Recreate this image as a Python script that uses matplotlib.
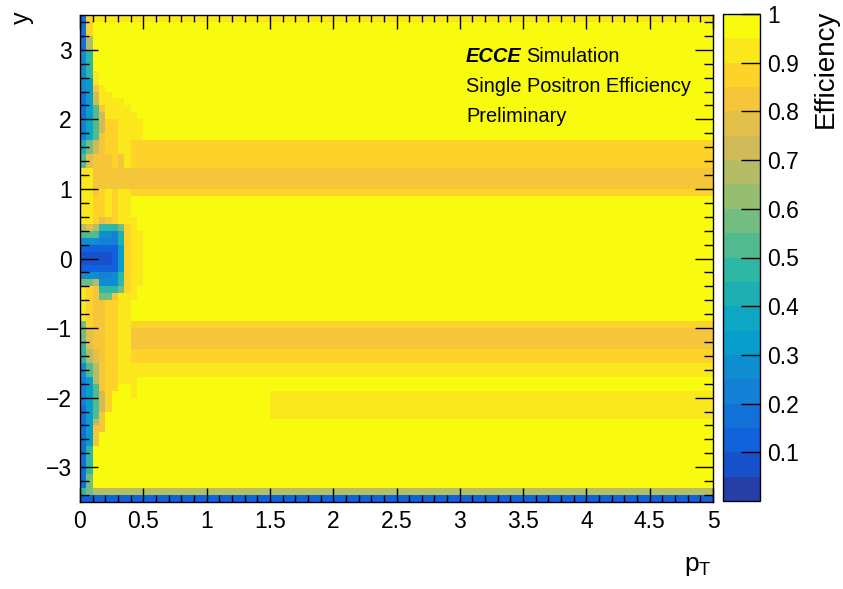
import numpy as np
import matplotlib
matplotlib.use("Agg")
import matplotlib.pyplot as plt
from matplotlib.colors import ListedColormap, BoundaryNorm

# ---------------- data ----------------
pt_edges = np.linspace(0.0, 5.0, 101)      # 100 bins of 0.05
y_edges = np.linspace(-3.5, 3.5, 71)       # 70 bins of 0.1

# efficiency plateau vs y for pT above the turn-on (y_lo, y_hi, eff)
plateau_segments = [
    (-3.5, -3.4, 0.15), (-3.4, -3.3, 0.67), (-3.3, -1.7, 0.975),
    (-1.7, -1.5, 0.91), (-1.5, -1.3, 0.88), (-1.3, -1.0, 0.84),
    (-1.0, -0.9, 0.88), (-0.9, 0.9, 0.975), (0.9, 1.0, 0.88),
    (1.0, 1.3, 0.84), (1.3, 1.7, 0.88), (1.7, 3.4, 0.975),
    (3.4, 3.5, 0.92),
]
# faint band (y_lo, y_hi, eff, pT start)
faint_band = (-2.3, -1.9, 0.93, 1.5)

# low-pT columns (index of the 0.05 pT bin -> segments (y_lo, y_hi, eff))
col0 = [(-3.5, -3.4, 0.1), (-3.4, -3.3, 0.45), (-3.3, -2.1, 0.17), (-2.1, -1.7, 0.2),
        (-1.7, -1.5, 0.3), (-1.5, -1.2, 0.45), (-1.2, -0.9, 0.55), (-0.9, -0.4, 0.93),
        (-0.4, -0.3, 0.55), (-0.3, -0.2, 0.3), (-0.2, -0.1, 0.12), (-0.1, 0.1, 0.07),
        (0.1, 0.2, 0.12), (0.2, 0.3, 0.3), (0.3, 0.4, 0.5), (0.4, 0.5, 0.7),
        (0.5, 1.3, 0.93), (1.3, 1.5, 0.5), (1.5, 1.7, 0.4), (1.7, 2.0, 0.22),
        (2.0, 2.4, 0.18), (2.4, 3.0, 0.25), (3.0, 3.5, 0.18)]
col1 = [(-3.5, -3.4, 0.12), (-3.4, -3.1, 0.6), (-3.1, -2.7, 0.45), (-2.7, -1.7, 0.32),
        (-1.7, -1.5, 0.5), (-1.5, -1.3, 0.65), (-1.3, -1.0, 0.78), (-1.0, -0.4, 0.88),
        (-0.4, -0.3, 0.6), (-0.3, -0.2, 0.3), (-0.2, -0.1, 0.12), (-0.1, 0.1, 0.07),
        (0.1, 0.2, 0.12), (0.2, 0.3, 0.3), (0.3, 0.4, 0.5), (0.4, 0.5, 0.75),
        (0.5, 1.3, 0.92), (1.3, 1.5, 0.75), (1.5, 1.7, 0.6), (1.7, 2.0, 0.38),
        (2.0, 2.6, 0.32), (2.6, 3.0, 0.45), (3.0, 3.2, 0.65), (3.2, 3.5, 0.88)]
col2 = [(-3.3, -2.7, 0.975), (-2.7, -2.4, 0.85), (-2.4, -2.3, 0.7), (-2.3, -1.8, 0.5),
        (-1.8, -1.5, 0.68), (-1.5, -1.3, 0.75), (-1.3, -0.4, 0.85), (-0.4, -0.3, 0.7),
        (-0.3, -0.2, 0.3), (-0.2, -0.1, 0.12), (-0.1, 0.1, 0.07), (0.1, 0.2, 0.12),
        (0.2, 0.3, 0.3), (0.3, 0.4, 0.5), (0.4, 0.5, 0.7), (0.5, 0.9, 0.87),
        (0.9, 1.3, 0.8), (1.3, 1.5, 0.85), (1.5, 1.7, 0.72), (1.7, 2.2, 0.5),
        (2.2, 2.4, 0.72), (2.4, 2.5, 0.8), (2.5, 2.7, 0.9), (2.7, 3.4, 0.975)]
col3 = [(-3.3, -2.5, 0.975), (-2.5, -2.2, 0.85), (-2.2, -1.9, 0.72), (-1.9, -1.4, 0.8),
        (-1.4, -0.6, 0.85), (-0.6, -0.5, 0.6), (-0.5, -0.4, 0.45), (-0.4, -0.3, 0.25),
        (-0.3, -0.2, 0.2), (-0.2, -0.1, 0.1), (-0.1, 0.1, 0.07), (0.1, 0.2, 0.12),
        (0.2, 0.3, 0.2), (0.3, 0.4, 0.25), (0.4, 0.5, 0.45), (0.5, 0.6, 0.75),
        (0.6, 1.0, 0.86), (1.0, 1.3, 0.82), (1.3, 1.8, 0.8), (1.8, 2.1, 0.74),
        (2.1, 2.2, 0.85), (2.2, 2.5, 0.9), (2.5, 3.4, 0.975)]
col4 = [(-3.3, -2.2, 0.975), (-2.2, -0.6, 0.87), (-0.6, -0.5, 0.6), (-0.5, -0.4, 0.45),
        (-0.4, -0.3, 0.25), (-0.3, -0.2, 0.2), (-0.2, -0.1, 0.1), (-0.1, 0.1, 0.07),
        (0.1, 0.2, 0.12), (0.2, 0.3, 0.2), (0.3, 0.4, 0.25), (0.4, 0.5, 0.45),
        (0.5, 0.6, 0.85), (0.6, 1.0, 0.9), (1.0, 1.5, 0.85), (1.5, 2.0, 0.87),
        (2.0, 2.4, 0.9), (2.4, 3.4, 0.975)]
col5 = [(-3.3, -1.9, 0.975), (-1.9, -0.6, 0.88), (-0.6, -0.5, 0.8), (-0.5, -0.4, 0.45),
        (-0.4, -0.2, 0.25), (-0.2, 0.2, 0.12), (0.2, 0.4, 0.22), (0.4, 0.5, 0.45),
        (0.5, 1.0, 0.88), (1.0, 1.3, 0.84), (1.3, 2.0, 0.88), (2.0, 2.3, 0.92),
        (2.3, 3.4, 0.975)]
col6 = [(-3.3, -1.8, 0.975), (-1.8, -0.5, 0.9), (-0.5, -0.4, 0.55), (-0.4, -0.2, 0.45),
        (-0.2, 0.2, 0.35), (0.2, 0.4, 0.42), (0.4, 0.5, 0.6), (0.5, 1.0, 0.9),
        (1.0, 1.5, 0.84), (1.5, 2.0, 0.9), (2.0, 2.3, 0.93), (2.3, 3.4, 0.975)]
col7 = [(-3.3, -1.8, 0.975), (-1.8, -0.9, 0.9), (-0.9, -0.5, 0.93), (-0.5, 0.5, 0.88),
        (0.5, 0.9, 0.93), (0.9, 1.0, 0.9), (1.0, 1.3, 0.84), (1.3, 1.9, 0.9),
        (1.9, 2.2, 0.93), (2.2, 3.4, 0.975)]
col8 = [(-2.0, -1.7, 0.93), (-0.6, 0.6, 0.93), (1.7, 2.1, 0.93)]
col9 = [(-0.4, 0.4, 0.93), (1.7, 2.0, 0.93)]
lowpt_columns = [col0, col1, col2, col3, col4, col5, col6, col7, col8, col9]

z_levels = np.linspace(0.0, 1.0, 21)
cbar_ticks = [0.1, 0.2, 0.3, 0.4, 0.5, 0.6, 0.7, 0.8, 0.9, 1.0]
cbar_ticklabels = ["0.1", "0.2", "0.3", "0.4", "0.5", "0.6", "0.7", "0.8", "0.9", "1"]
x_ticks = [0, 0.5, 1, 1.5, 2, 2.5, 3, 3.5, 4, 4.5, 5]
x_ticklabels = ["0", "0.5", "1", "1.5", "2", "2.5", "3", "3.5", "4", "4.5", "5"]
y_ticks = [-3, -2, -1, 0, 1, 2, 3]
y_ticklabels = ["\u22123", "\u22122", "\u22121", "0", "1", "2", "3"]

# ---------------- build the histogram ----------------
yc = 0.5 * (y_edges[:-1] + y_edges[1:])
xc = 0.5 * (pt_edges[:-1] + pt_edges[1:])


def profile(segments):
    col = np.full(len(yc), np.nan)
    for lo, hi, v in segments:
        col[(yc > lo) & (yc < hi)] = v
    return col


plateau = profile(plateau_segments)
Z = np.tile(plateau[:, None], (1, len(xc)))
fl, fh, fv, fpt = faint_band
Z[np.ix_((yc > fl) & (yc < fh), xc > fpt)] = fv
for ci, segs in enumerate(lowpt_columns):
    p = profile(segs)
    m = ~np.isnan(p)
    Z[m, ci] = p[m]

# ---------------- ROOT kBird palette, 20 contours ----------------
stops = [0.0, 0.125, 0.25, 0.375, 0.5, 0.625, 0.75, 0.875, 1.0]
red = [0.2082, 0.0592, 0.0780, 0.0232, 0.1802, 0.5301, 0.8186, 0.9956, 0.9764]
green = [0.1664, 0.3599, 0.5041, 0.6419, 0.7178, 0.7492, 0.7328, 0.7862, 0.9832]
blue = [0.5293, 0.8684, 0.8385, 0.7914, 0.6425, 0.4662, 0.3499, 0.1968, 0.0539]
ncol, ncont = 255, len(z_levels) - 1
cols = []
for i in range(ncont):
    f = int((i + 0.99) * ncol / ncont) / (ncol - 1)
    cols.append((np.interp(f, stops, red), np.interp(f, stops, green), np.interp(f, stops, blue)))
cmap = ListedColormap(cols)
norm = BoundaryNorm(z_levels, cmap.N)

# ---------------- figure ----------------
plt.rcParams['font.family'] = ['Liberation Sans', 'DejaVu Sans']
W, H = 843, 589
fig = plt.figure(figsize=(W / 100, H / 100), dpi=100)
ax = fig.add_axes([80 / W, 1 - 502 / H, 633 / W, 487 / H])
cax = fig.add_axes([723 / W, 1 - 501 / H, 37 / W, 487 / H])

mesh = ax.pcolormesh(pt_edges, y_edges, Z, cmap=cmap, norm=norm)
ax.set_xlim(0, 5)
ax.set_ylim(-3.5, 3.5)

fs = 16.5
ax.set_xticks(x_ticks)
ax.set_xticklabels(x_ticklabels, fontsize=fs)
ax.set_yticks(y_ticks)
ax.set_yticklabels(y_ticklabels, fontsize=fs)
ax.set_xticks(np.arange(0, 5.001, 0.1), minor=True)
ax.set_yticks(np.arange(-3.4, 3.41, 0.2), minor=True)
ax.tick_params(axis='x', which='major', direction='in', length=10, width=1, top=True, bottom=True, pad=6)
ax.tick_params(axis='x', which='minor', direction='in', length=5, width=1, top=True, bottom=True)
ax.tick_params(axis='y', which='major', direction='in', length=13, width=1, left=True, right=True, pad=6)
ax.tick_params(axis='y', which='minor', direction='in', length=6.5, width=1, left=True, right=True)
for s in ax.spines.values():
    s.set_linewidth(1)

fig.text(712 / W, 1 - 566 / H, r"p$_{\mathregular{T}}$", fontsize=19, ha='right', va='center')
fig.text(22 / W, 1 - 12 / H, "y", fontsize=18, rotation=90, ha='center', va='top')

cb = fig.colorbar(mesh, cax=cax, ticks=cbar_ticks)
cb.set_ticklabels(cbar_ticklabels)
cax.tick_params(direction='in', length=14, width=1, labelsize=fs, pad=5, right=True)
cb.outline.set_linewidth(1)
cb.minorticks_off()
fig.text(826 / W, 1 - 10 / H, "Efficiency", fontsize=20, rotation=90, ha='center', va='top')

# annotation block
tfs = 14.4
t1 = fig.text(466 / W, 1 - 57 / H, "ECCE", fontsize=tfs, weight='bold', style='italic', va='center', ha='left')
fig.canvas.draw()
bb = t1.get_window_extent(fig.canvas.get_renderer())
fig.text((bb.x1 + 4) / W, 1 - 57 / H, "Simulation", fontsize=tfs, va='center', ha='left')
fig.text(466 / W, 1 - 86 / H, "Single Positron Efficiency", fontsize=tfs, va='center', ha='left')
fig.text(466 / W, 1 - 117 / H, "Preliminary", fontsize=tfs, va='center', ha='left')

fig.savefig("out.png", dpi=100)
